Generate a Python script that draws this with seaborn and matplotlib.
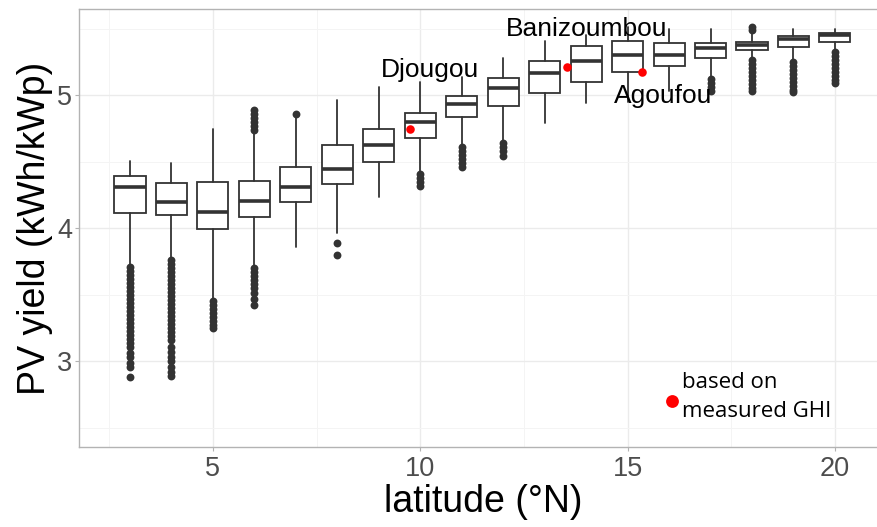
import numpy as np
import pandas as pd
import matplotlib
matplotlib.use("Agg")
import matplotlib.pyplot as plt
import seaborn as sns

# box statistics per latitude
latitudes = [3, 4, 5, 6, 7, 8, 9, 10, 11, 12, 13, 14, 15, 16, 17, 18, 19, 20]
whisk_lo = [3.73, 3.78, 3.47, 3.72, 3.857, 3.962, 4.236, 4.43, 4.63, 4.66,
            4.787, 4.938, 4.95, 5.03, 5.14, 5.27, 5.26, 5.34]
q1 = [4.114, 4.097, 3.992, 4.087, 4.199, 4.33, 4.497, 4.675, 4.833, 4.92,
      5.013, 5.095, 5.17, 5.22, 5.275, 5.338, 5.358, 5.40]
median = [4.312, 4.194, 4.119, 4.202, 4.309, 4.447, 4.627, 4.795, 4.932, 5.05,
          5.163, 5.257, 5.30, 5.30, 5.355, 5.373, 5.423, 5.45]
q3 = [4.392, 4.337, 4.349, 4.357, 4.462, 4.622, 4.742, 4.867, 4.995, 5.13,
      5.258, 5.37, 5.408, 5.388, 5.388, 5.396, 5.443, 5.468]
whisk_hi = [4.507, 4.492, 4.743, 4.72, 4.84, 4.962, 5.062, 5.10, 5.138, 5.28,
            5.408, 5.45, 5.51, 5.50, 5.493, 5.46, 5.493, 5.493]

outliers = {
    3: [3.71, 3.68, 3.65, 3.62, 3.59, 3.56, 3.53, 3.50, 3.47, 3.44, 3.41, 3.38,
        3.35, 3.32, 3.29, 3.26, 3.23, 3.20, 3.17, 3.14, 3.11, 3.06, 3.03, 2.99,
        2.96, 2.88],
    4: [3.76, 3.73, 3.70, 3.67, 3.64, 3.61, 3.58, 3.55, 3.52, 3.49, 3.46, 3.43,
        3.40, 3.37, 3.34, 3.31, 3.28, 3.25, 3.22, 3.19, 3.16, 3.11, 3.07, 3.03,
        3.00, 2.96, 2.92, 2.89],
    5: [3.45, 3.42, 3.39, 3.36, 3.33, 3.30, 3.27, 3.25],
    6: [4.74, 4.77, 4.80, 4.83, 4.86, 4.885,
        3.70, 3.67, 3.64, 3.61, 3.58, 3.55, 3.51, 3.47, 3.42],
    7: [4.855],
    8: [3.89, 3.80],
    10: [4.41, 4.38, 4.35, 4.32],
    11: [4.61, 4.58, 4.55, 4.52, 4.49, 4.46],
    12: [4.64, 4.61, 4.58, 4.54],
    17: [5.12, 5.09, 5.06, 5.03],
    18: [5.49, 5.51, 5.26, 5.23, 5.20, 5.17, 5.14, 5.11, 5.08, 5.05, 5.03],
    19: [5.25, 5.22, 5.19, 5.16, 5.13, 5.10, 5.07, 5.04, 5.025],
    20: [5.32, 5.29, 5.26, 5.23, 5.20, 5.17, 5.14, 5.11, 5.09],
}

# stations with measured GHI
station_names = ["Djougou", "Banizoumbou", "Agoufou"]
station_lat = [9.76, 13.54, 15.34]
station_yield = [4.745, 5.212, 5.17]
label_offsets = [(20, 59), (20, 38), (21, -24)]  # pixels from the dot

legend_lat = 16.06
legend_yield = 2.705

sns.set_theme(style="whitegrid")
plt.rcParams["font.family"] = ["Liberation Sans", "DejaVu Sans"]

fig = plt.figure(figsize=(8.77, 5.27), dpi=100)
ax = fig.add_axes([0.0901, 0.1518, 0.921, 0.831])

stats = []
for i, lat in enumerate(latitudes):
    stats.append({"whislo": whisk_lo[i], "q1": q1[i], "med": median[i],
                  "q3": q3[i], "whishi": whisk_hi[i], "fliers": []})

ax.bxp(stats, positions=latitudes, widths=0.75, showfliers=False,
       patch_artist=True, manage_ticks=False,
       boxprops=dict(facecolor="white", edgecolor="#333333", linewidth=1.3),
       medianprops=dict(color="#333333", linewidth=2.6, solid_capstyle="butt"),
       whiskerprops=dict(color="#333333", linewidth=1.3),
       capprops=dict(linewidth=0))

out_df = pd.DataFrame(
    [(lat, v) for lat, vals in outliers.items() for v in vals],
    columns=["latitude", "yield"])
sns.scatterplot(data=out_df, x="latitude", y="yield", color="#333333",
                s=32, linewidth=0, ax=ax, zorder=3)

st_df = pd.DataFrame({"name": station_names, "latitude": station_lat,
                      "yield": station_yield})
sns.scatterplot(data=st_df, x="latitude", y="yield", color="red",
                s=38, linewidth=0, ax=ax, zorder=4)
for name, x, y, off in zip(station_names, station_lat, station_yield, label_offsets):
    ax.annotate(name, (x, y), xytext=off, textcoords="offset pixels",
                ha="center", va="center", fontsize=19, color="black", zorder=5)

ax.scatter([legend_lat], [legend_yield], color="red", s=85, linewidth=0, zorder=4)
ax.annotate("based on\nmeasured GHI", (legend_lat, legend_yield), xytext=(10, 4),
            textcoords="offset pixels", ha="left", va="center", fontsize=16,
            family=["Open Sans", "DejaVu Sans"], linespacing=1.5, color="black")

ax.set_xlim(1.77, 21.25)
ax.set_ylim(2.357, 5.646)
ax.set_xticks([5, 10, 15, 20])
ax.set_xticks([2.5, 7.5, 12.5, 17.5], minor=True)
ax.set_yticks([3, 4, 5])
ax.set_yticks([2.5, 3.5, 4.5, 5.5], minor=True)
ax.grid(which="major", color="#EBEBEB", linewidth=1.0)
ax.grid(which="minor", color="#F4F4F4", linewidth=0.7)
ax.set_axisbelow(True)

ax.tick_params(which="major", length=3, width=0.8, color="#B3B3B3",
               labelsize=19.5, labelcolor="#4D4D4D", bottom=True, left=True)
ax.tick_params(axis="x", pad=3.5)
ax.tick_params(axis="y", pad=2)
ax.tick_params(which="minor", length=0)
for sp in ax.spines.values():
    sp.set_color("#B3B3B3")
    sp.set_linewidth(1.0)
ax.spines["right"].set_visible(False)

ax.set_xlabel("latitude (°N)", fontsize=27, color="black")
ax.set_ylabel("PV yield (kWh/kWp)", fontsize=27, color="black")
ax.xaxis.set_label_coords(0.5, -0.0845)
ax.yaxis.set_label_coords(-0.032, 0.5)

fig.savefig("out.png", dpi=100)
